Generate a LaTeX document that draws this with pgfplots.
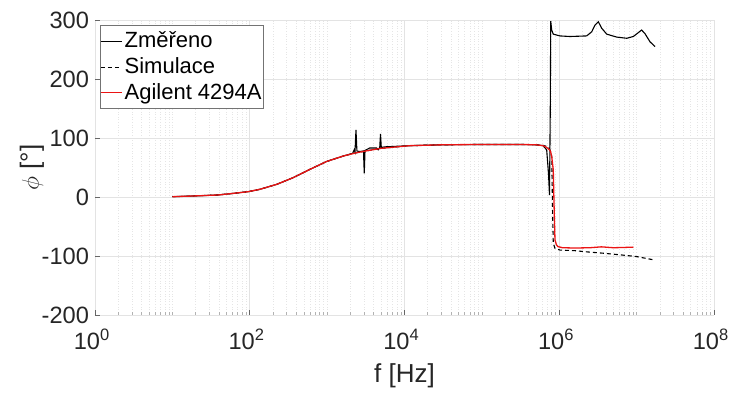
\documentclass[border=0pt]{standalone}
\usepackage{fontspec}
\setmainfont{Liberation Sans}
\usepackage{pgfplots}
\pgfplotsset{compat=1.18}
\definecolor{txt}{RGB}{38,38,38}
\definecolor{mred}{RGB}{235,20,20}
\begin{document}
\begin{tikzpicture}
\useasboundingbox (-47.5pt,-39.5pt) rectangle (317.5pt,157.5pt);
\begin{axis}[
  scale only axis,
  width=309.5pt, height=147.5pt,
  xmode=log,
  xmin=1, xmax=1e8, ymin=-200, ymax=300,
  xtick={1,1e2,1e4,1e6,1e8},
  xticklabels={10\textsuperscript{0},10\textsuperscript{2},10\textsuperscript{4},10\textsuperscript{6},10\textsuperscript{8}},
  minor xtick={2,3,4,5,6,7,8,9,10,20,30,40,50,60,70,80,90,200,300,400,500,600,700,800,900,1000,2000,3000,4000,5000,6000,7000,8000,9000,2e4,3e4,4e4,5e4,6e4,7e4,8e4,9e4,1e5,2e5,3e5,4e5,5e5,6e5,7e5,8e5,9e5,2e6,3e6,4e6,5e6,6e6,7e6,8e6,9e6,1e7,2e7,3e7,4e7,5e7,6e7,7e7,8e7,9e7},
  ytick={-200,-100,0,100,200,300},
  yticklabels={-200,-100,0,100,200,300},
  tick label style={font=\fontsize{11.8}{14}\selectfont, text=txt},
  xticklabel style={yshift=-3.5pt, xshift=-1.5pt},
  yticklabel style={xshift=0.5pt},
  label style={font=\fontsize{13}{15}\selectfont, text=txt},
  xlabel={f [Hz]},
  ylabel={$\phi$ [°]},
  xlabel style={at={(axis description cs:0.5,-0.2068)}, anchor=center},
  ylabel style={at={(axis description cs:-0.1018,0.5)}, anchor=center, rotate=0},
  axis line style={draw=none},
  tick pos=left,
  major tick length=2.5pt, minor tick length=1.5pt,
  major tick style={black!60, line width=0.4pt},
  minor tick style={black!30, line width=0.3pt},
  xmajorgrids, ymajorgrids, xminorgrids,
  major grid style={gray!22, line width=0.4pt},
  minor grid style={gray!20, line width=0.3pt, densely dotted},
  legend style={at={(axis description cs:0.008,0.983)}, anchor=north west,
    font=\fontsize{11}{13}\selectfont, draw=black!55, line width=0.4pt,
    inner xsep=0pt, inner ysep=2pt, row sep=1pt, fill=white,
    nodes={inner xsep=1pt, inner ysep=1.2pt}},
  legend cell align=left,
  legend image code/.code={\draw[#1] (0pt,0pt) -- (10.5pt,0pt);},
]
% Zmereno
\addplot[black, line width=0.55pt] coordinates {
(10,0.5) (18.6,1.7) (38.9,3.4) (60,6) (95.5,9) (135,13) (224,21.5) (363,32.7) (603,47) (977,60) (1622,69.5)
(2138,74) (2239,80) (2291,76) (2360,113.6) (2427,78) (2630,77) (2951,78) (3020,40) (3090,79)
(3548,83) (4365,83) (4571,80) (4786,84) (4898,107) (5012,84) (5623,85)
(11750,87) (31623,88.5) (1e5,89) (3.16e5,89) (5e5,88.5) (6.17e5,87)
(6.88e5,80) (7.26e5,40) (7.48e5,3) (7.66e5,150) (7.76e5,298) (7.99e5,283) (8.37e5,276) (1.023e6,273)
(1.377e6,272) (2.26e6,273) (2.63e6,280) (2.90e6,291.5) (3.20e6,297) (3.54e6,286) (4.11e6,276)
(5.53e6,271) (7.45e6,269) (9.06e6,272) (1.05e7,278.5) (1.16e7,283) (1.28e7,277) (1.49e7,263) (1.73e7,255)
};
\addlegendentry{Změřeno}
% Simulace
\addplot[black, line width=0.55pt, dash pattern=on 2pt off 1.5pt] coordinates {
(10,0.5) (18.6,1.7) (38.9,3.4) (60,6) (95.5,9) (135,13) (224,21.5) (363,32.7) (603,47) (977,60) (1622,69.5)
(2400,75) (3162,78) (5012,82.5) (11750,87) (31623,88.5) (1e5,89) (3.16e5,89) (5e5,88.5) (6.17e5,87.5)
(7.26e5,85) (7.8e5,76) (8.0e5,68) (8.2e5,-22) (8.37e5,-78) (8.81e5,-87) (1.023e6,-90) (1.6e6,-91)
(2.26e6,-93) (3.5e6,-95) (6.1e6,-98) (1e7,-101) (1.73e7,-107)
};
\addlegendentry{Simulace}
% Agilent
\addplot[mred, line width=0.65pt] coordinates {
(10,0.5) (18.6,1.7) (38.9,3.4) (60,6) (95.5,9) (135,13) (224,21.5) (363,32.7) (603,47) (977,60) (1622,69.5)
(2400,75) (3162,78) (5012,82.5) (11750,87) (31623,88.5) (1e5,89) (3.16e5,89) (5e5,88.5) (6.17e5,87)
(6.88e5,84) (7.5e5,80) (7.76e5,76) (8.0e5,68) (8.37e5,46) (8.6e5,-22) (8.81e5,-73) (9.2e5,-81) (9.6e5,-84)
(1.1e6,-86) (1.6e6,-86.5) (2.5e6,-86) (3.5e6,-84.5) (5e6,-86) (7e6,-85.5) (9.06e6,-85)
};
\addlegendentry{Agilent 4294A}
\end{axis}
\end{tikzpicture}
\end{document}
